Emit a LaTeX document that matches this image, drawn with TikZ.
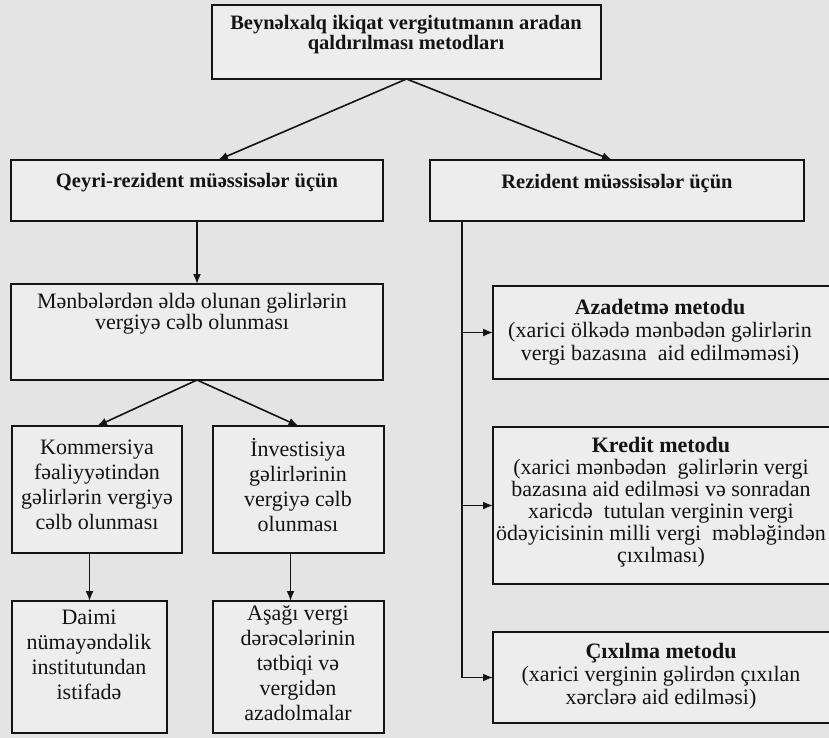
\documentclass[tikz,border=0pt]{standalone}
\usepackage{fontspec}
\setmainfont{Liberation Serif}
\usetikzlibrary{arrows.meta,fit,calc}
\definecolor{pagebg}{RGB}{228,228,228}
\definecolor{boxbg}{RGB}{237,237,237}
\definecolor{ink}{RGB}{20,20,20}
\begin{document}
\begin{tikzpicture}[x=1pt,y=-1pt,
  box/.style={draw=ink, line width=1.8pt, fill=boxbg, inner sep=0pt, outer sep=0pt, rectangle},
  txt/.style={align=center, inner sep=0pt, text=ink, font=\fontsize{22}{23}\selectfont},
  txtwide/.style={txt, font=\fontsize{22}{25}\selectfont},
  btxt/.style={align=center, inner sep=0pt, text=ink, font=\fontsize{20.5}{20}\selectfont\bfseries},
  conn/.style={draw=ink, line width=1.6pt},
  arr/.style={conn, -{Latex[length=10pt,width=8pt]}}]
\useasboundingbox (0,0) rectangle (829,738);
\fill[pagebg] (0,0) rectangle (829,738);

% boxes
\node[box, fit={(212,5) (601,79)}] (bTop) {};
\node[box, fit={(11,160) (383,221)}] (bQ) {};
\node[box, fit={(430,160) (804,221)}] (bR) {};
\node[box, fit={(11,284) (383,380)}] (bM) {};
\node[box, fit={(12,426) (182,553)}] (bK) {};
\node[box, fit={(213,426) (384,553)}] (bI) {};
\node[box, fit={(12,601) (167,733)}] (bD) {};
\node[box, fit={(213,601) (384,733)}] (bS) {};
\node[box, fit={(493,286) (832,379)}] (bA) {};
\node[box, fit={(493,427) (832,584)}] (bKr) {};
\node[box, fit={(493,632) (832,723)}] (bC) {};

% texts
\node[btxt] (tTop) at (406,35) {Beynəlxalq ikiqat vergitutmanın aradan\\ qaldırılması metodları};
\node[btxt] (tQ) at (197,183) {Qeyri-rezident müəssisələr üçün};
\node[btxt] (tR) at (617,183) {Rezident müəssisələr üçün};
\node[txt, font=\fontsize{22}{20}\selectfont] (tM) at (192,314) {Mənbələrdən əldə olunan gəlirlərin\\ vergiyə cəlb olunması};
\node[txtwide] (tK) at (97,485) {Kommersiya\\ fəaliyyətindən\\ gəlirlərin vergiyə\\ cəlb olunması};
\node[txtwide] (tI) at (298,485) {İnvestisiya\\ gəlirlərinin\\ vergiyə cəlb\\ olunması};
\node[txtwide] (tD) at (89,655) {Daimi\\ nümayəndəlik\\ institutundan\\ istifadə};
\node[txtwide] (tS) at (298,663) {Aşağı vergi\\ dərəcələrinin\\ tətbiqi və\\ vergidən\\ azadolmalar};
\node[txt] (tA) at (660,332) {\textbf{Azadetmə metodu}\\ (xarici ölkədə mənbədən gəlirlərin\\ vergi bazasına\ \ aid edilməməsi)};
\node[txt, font=\fontsize{22}{22}\selectfont] (tKr) at (661,502) {\textbf{Kredit metodu}\\ (xarici mənbədən\ \ gəlirlərin vergi\\ bazasına aid edilməsi və sonradan\\ xaricdə\ \ tutulan verginin vergi\\ ödəyicisinin milli vergi\ \ məbləğindən\\ çıxılması)};
\node[txt] (tC) at (661,676) {\textbf{Çıxılma metodu}\\ (xarici verginin gəlirdən çıxılan\\ xərclərə aid edilməsi)};

% connectors
\draw[arr] (bTop.south) -- ([xshift=21pt]bQ.north);
\draw[arr] (bTop.south) -- ([xshift=-5pt]bR.north);
\draw[arr] (bQ.south) -- (bM.north);
\draw[arr] (bM.south) -- (bK.north);
\draw[arr] (bM.south) -- (bI.north);
\draw[arr] (bK.south -| bD.north) -- (bD.north);
\draw[arr] ([xshift=-8pt]bI.south) -- ([xshift=-8pt]bS.north);
\coordinate (rs) at ([xshift=32pt]bR.south west);
\draw[arr] (rs) |- (bC.west);
\draw[arr] (rs |- bA.west) -- (bA.west);
\draw[arr] (rs |- bKr.west) -- (bKr.west);
\end{tikzpicture}
\end{document}
